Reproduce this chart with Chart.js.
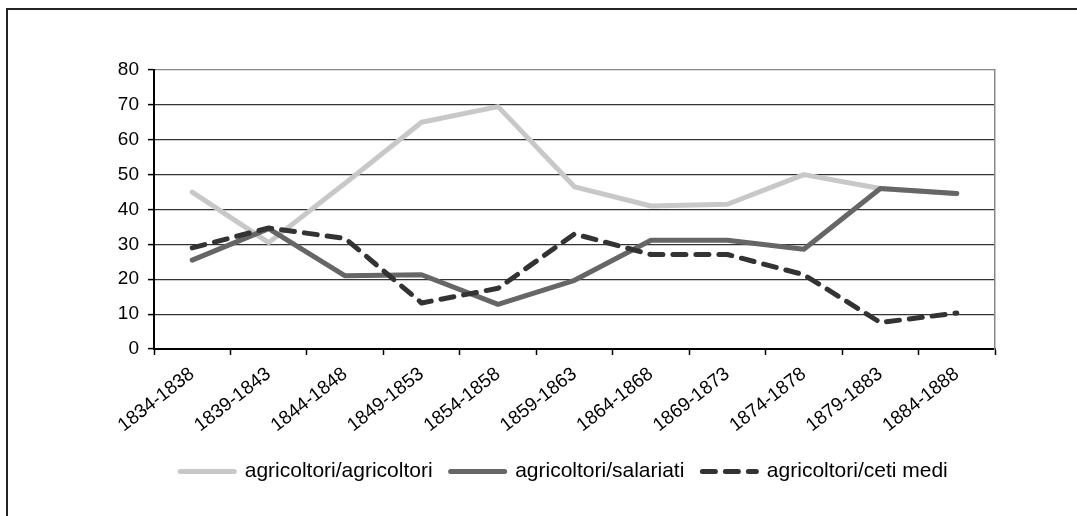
<!DOCTYPE html>
<html>
<head>
<meta charset="utf-8">
<script src="https://cdn.jsdelivr.net/npm/chart.js@4"></script>
<style>
  html, body { margin: 0; padding: 0; background: #fff; }
  #wrap { position: absolute; left: 0; top: 0; width: 1077px; height: 516px; }
  #frame { position: absolute; left: 6px; top: 8px; width: 1071px; height: 508px;
           border-left: 2px solid #222; border-top: 2px solid #222; box-sizing: border-box; }
</style>
</head>
<body>
<div id="frame"></div>
<div id="wrap"><canvas id="grafico"></canvas></div>
<script>
const periodi = ['1834-1838', '1839-1843', '1844-1848', '1849-1853', '1854-1858', '1859-1863',
                 '1864-1868', '1869-1873', '1874-1878', '1879-1883', '1884-1888'];

const agricoltori = [45, 30.5, 47.5, 65, 69.5, 46.5, 41, 41.5, 50, 46, 44.5];
const salariati = [25.5, 34.5, 21, 21.3, 12.8, 19.7, 31.2, 31.2, 28.6, 46, 44.6];
const cetiMedi = [29, 34.7, 31.7, 13.2, 17.4, 33, 27.1, 27.1, 21.3, 7.6, 10.3];

const yTicks = [0, 10, 20, 30, 40, 50, 60, 70, 80];

Chart.defaults.font.family = "'Liberation Sans', Arial, sans-serif";
Chart.defaults.color = '#000';

let grafico = document.getElementById("grafico");

const dataGrafico = {
  labels: periodi,
  datasets: [
    {
      label: 'agricoltori/agricoltori',
      data: agricoltori,
      borderColor: '#c8c8c8',
      borderWidth: 5,
      order: 3,
    },
    {
      label: 'agricoltori/salariati',
      data: salariati,
      borderColor: '#666666',
      borderWidth: 5,
      order: 2,
    },
    {
      label: 'agricoltori/ceti medi',
      data: cetiMedi,
      borderColor: '#333333',
      borderWidth: 5,
      borderDash: [13, 10],
      order: 1,
    },
  ]
};

// legend samples: keep the dataset's colour, width and dash
const legendLabels = (chart) => {
  const items = Chart.defaults.plugins.legend.labels.generateLabels(chart);
  items.forEach(it => {
    const ds = chart.data.datasets[it.datasetIndex];
    it.strokeStyle = ds.borderColor;
    it.lineWidth = ds.borderWidth;
    it.lineDash = ds.borderDash || [];
    it.lineCap = 'round';
  });
  return items;
};

const configGrafico = {
  type: 'line',
  data: dataGrafico,
  options: {
    responsive: true,
    maintainAspectRatio: false,
    animation: false,
    layout: { padding: { left: 51, right: 0, top: 70, bottom: 24 } },
    elements: {
      line: { tension: 0, borderCapStyle: 'round', borderJoinStyle: 'round', fill: false },
      point: { radius: 0, hoverRadius: 0 }
    },
    scales: {
      x: {
        offset: true,
        grid: { offset: true, drawOnChartArea: false, tickLength: 6, tickColor: '#000', tickWidth: 1.5 },
        border: { color: '#000', width: 2 },
        ticks: { font: { size: 19 }, maxRotation: 38, minRotation: 38, padding: 8, autoSkip: false },
        afterFit: (s) => { s.height = 94; s.paddingLeft = 0; s.paddingRight = 0; }
      },
      y: {
        min: 0,
        max: 80,
        afterBuildTicks: (s) => { s.ticks = yTicks.map(v => ({ value: v })); },
        grid: {
          color: (c) => c.tick && c.tick.value === 80 ? '#888' : '#333',
          lineWidth: 1.2,
          tickLength: 6,
          tickColor: '#000',
          tickWidth: 1.5
        },
        border: { color: '#000', width: 2 },
        ticks: { font: { size: 19 }, padding: 9 },
        afterFit: (s) => { s.width = 103; s.paddingTop = 0; s.paddingBottom = 0; }
      },
      y2: {
        display: true,
        position: 'right',
        grid: { display: false, drawTicks: false },
        ticks: { display: false },
        border: { display: true, color: '#888', width: 1.5 },
        afterFit: (s) => { s.width = 82; s.paddingTop = 0; s.paddingBottom = 0; }
      }
    },
    plugins: {
      legend: {
        position: 'bottom',
        labels: {
          font: { size: 21 },
          usePointStyle: true,
          pointStyle: 'line',
          pointStyleWidth: 54,
          padding: 18,
          generateLabels: legendLabels,
          sort: (a, b) => a.datasetIndex - b.datasetIndex
        }
      },
      title: { display: false },
      tooltip: { enabled: false }
    }
  }
};

let graficoChart = new Chart(grafico, configGrafico);
</script>
</body>
</html>
